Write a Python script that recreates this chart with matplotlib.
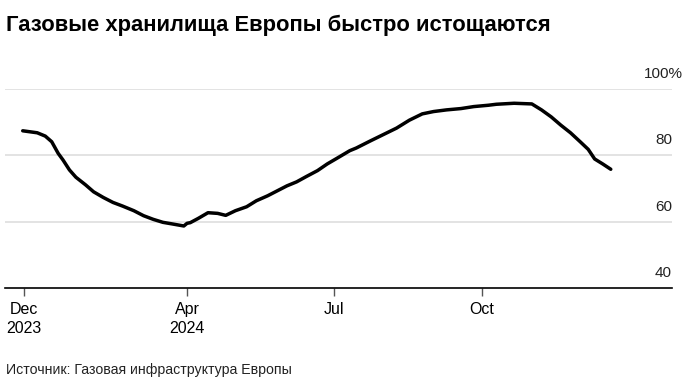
import matplotlib
matplotlib.use("Agg")
import matplotlib.pyplot as plt
import numpy as np
import pandas as pd

title = "Газовые хранилища Европы быстро истощаются"
source = "Источник: Газовая инфраструктура Европы"

dates = [
    "2023-12-21", "2023-12-30", "2024-01-04", "2024-01-08", "2024-01-12", "2024-01-15",
    "2024-01-19", "2024-01-23", "2024-01-29", "2024-02-03", "2024-02-09", "2024-02-15",
    "2024-02-21", "2024-02-28", "2024-03-05", "2024-03-11", "2024-03-17", "2024-03-23",
    "2024-03-30", "2024-04-01", "2024-04-03", "2024-04-08", "2024-04-14", "2024-04-20",
    "2024-04-25", "2024-05-01", "2024-05-08", "2024-05-14", "2024-05-21", "2024-05-27",
    "2024-06-02", "2024-06-08", "2024-06-14", "2024-06-21", "2024-06-27", "2024-07-03",
    "2024-07-11", "2024-07-15", "2024-07-24", "2024-08-01", "2024-08-09", "2024-08-17",
    "2024-08-25", "2024-09-01", "2024-09-09", "2024-09-18", "2024-09-26", "2024-10-05",
    "2024-10-10", "2024-10-21", "2024-11-01", "2024-11-07", "2024-11-13", "2024-11-19",
    "2024-11-25", "2024-12-01", "2024-12-06", "2024-12-10", "2024-12-15", "2024-12-20",
]
storage = [
    87.4, 86.8, 85.8, 84.1, 80.6, 78.6,
    75.6, 73.4, 71.1, 69.0, 67.3, 65.8,
    64.7, 63.3, 61.8, 60.7, 59.8, 59.3,
    58.7, 59.5, 59.7, 61.0, 62.7, 62.5,
    61.9, 63.3, 64.5, 66.3, 67.8, 69.3,
    70.8, 72.0, 73.6, 75.4, 77.4, 79.1,
    81.4, 82.2, 84.4, 86.3, 88.2, 90.6,
    92.5, 93.2, 93.7, 94.1, 94.7, 95.1,
    95.4, 95.7, 95.5, 93.7, 91.6, 89.1,
    86.8, 84.1, 81.8, 78.9, 77.4, 75.8,
]

x_tick_dates = ["2023-12-22", "2024-04-01", "2024-07-01", "2024-10-01"]
x_tick_labels = ["Dec\n2023", "Apr\n2024", "Jul", "Oct"]
y_grid = [60, 80, 100]
y_labels = ["40", "60", "80", "100%"]
y_label_vals = [40, 60, 80, 100]

W, H = 691, 385
fig = plt.figure(figsize=(W / 100, H / 100), dpi=100)
ax = fig.add_axes([5 / W, 1 - 288 / H, 667 / W, 199 / H])

x = pd.to_datetime(dates)
ax.plot(x, storage, color="black", lw=2.5, solid_capstyle="round", solid_joinstyle="round", zorder=3)

for g in y_grid:
    ax.axhline(g, color="#e0e0e0", lw=1.3, zorder=1)

ax.set_ylim(40, 100)
ax.set_xlim(pd.Timestamp("2023-12-10"), pd.Timestamp("2025-01-27"))

for s in ["top", "right", "left"]:
    ax.spines[s].set_visible(False)
ax.spines["bottom"].set_color("black")
ax.spines["bottom"].set_linewidth(1.2)

ax.set_yticks([])
ax.set_xticks(pd.to_datetime(x_tick_dates))
ax.set_xticklabels(x_tick_labels, fontfamily=["Liberation Sans Narrow", "Liberation Sans"],
                   fontsize=11.5, linespacing=1.35)
ax.tick_params(axis="x", length=6, width=1, color="#555555", pad=4)

ytrans = ax.get_yaxis_transform()
for v, lab in zip(y_label_vals, y_labels):
    xr = 1.0 if lab != "100%" else 1.0 + 11 / 667
    ax.text(xr, v + 4.5, lab, transform=ytrans, ha="right", va="center",
            fontsize=11, color="#222222", fontfamily=["Liberation Sans", "DejaVu Sans"])

fig.text(6 / W, 1 - 25 / H, title, ha="left", va="center", fontsize=15.8, fontweight="bold",
         fontfamily=["Liberation Sans Narrow", "Liberation Sans"], color="black")
fig.text(6 / W, 1 - 370 / H, source, ha="left", va="center", fontsize=10.2,
         fontfamily=["Liberation Sans", "DejaVu Sans"], color="#222222")

fig.savefig("out.png", dpi=100)
